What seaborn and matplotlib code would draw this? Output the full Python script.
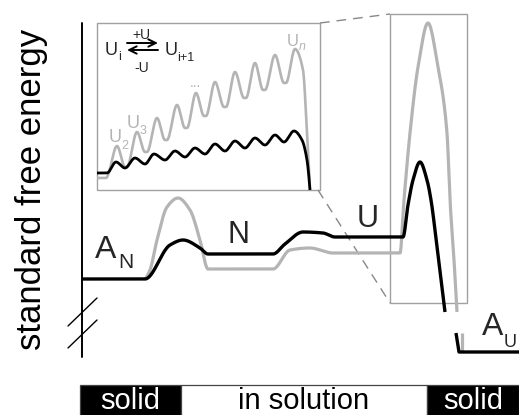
import numpy as np
import pandas as pd
import matplotlib
matplotlib.use("Agg")
import matplotlib.pyplot as plt
from matplotlib.patches import Rectangle
import seaborn as sns

# ---------------- data (schematic free-energy profiles, pixel-like units) ----------------
# main profile, folded pathway (black)
black_x = [82, 145, 170, 183, 200, 208, 273, 285, 303, 323, 335, 403, 408, 413, 420, 427, 431, 437, 445]
black_y = [279, 279, 245, 240, 248, 254, 254, 244, 232, 233, 237, 237, 205, 180, 162, 180, 200, 247, 312]
# main profile, alternative pathway (grey)
grey_x = [145, 150, 157, 167, 178, 190, 200, 208, 273, 290, 310, 333, 400, 404, 410, 418, 428, 438, 447, 450, 454, 457]
grey_y = [279, 270, 240, 207, 198, 210, 240, 269, 269, 250, 248, 253, 253, 200, 133, 67, 23, 67, 133, 200, 260, 312]
# aggregate (solid) end states
black_au_x = [456, 459, 519]
black_au_y = [333, 352, 352]
grey_au_x = [462, 462]
grey_au_y = [333, 352]
# inset: stepwise growth U_i -> U_i+1
inset_black_x = [97, 107, 116, 125, 135, 145, 154, 165, 175, 185, 195, 205, 215, 225, 235, 245,
                 255, 265, 275, 284, 294, 302, 307, 310]
inset_black_y = [173, 173, 162, 168, 158, 164, 154, 160, 151, 157, 148, 154, 144, 151, 141, 148,
                 138, 145, 135, 142, 131, 140, 160, 190]
inset_grey_x = [97, 106, 117, 125, 127, 137, 145, 147, 157, 165, 167, 177, 185, 187, 196, 204, 206,
                215, 224, 226, 235, 244, 246, 255, 263, 265, 275, 284, 286, 295, 303, 307, 310]
inset_grey_y = [178, 178, 146, 167, 167, 132, 152, 152, 118, 140, 140, 105, 128, 128, 93, 116, 116,
                82, 107, 107, 72, 98, 98, 63, 90, 90, 55, 83, 83, 49, 70, 133, 190]

phase_labels = ["solid", "in solution", "solid"]
phase_edges = [80, 181, 427, 519]
phase_colors = ["black", "white", "black"]
phase_text_colors = ["white", "black", "white"]

BLACK = "#000000"
GREY = "#b4b4b4"
BOX = "#a0a0a0"


def pchip_path(xk, yk, n=40):
    x = np.asarray(xk, float)
    y = np.asarray(yk, float)
    h = np.diff(x)
    m = np.diff(y) / h
    d = np.zeros_like(x)
    for k in range(1, len(x) - 1):
        if m[k - 1] * m[k] <= 0:
            d[k] = 0.0
        else:
            w1 = 2 * h[k] + h[k - 1]
            w2 = h[k] + 2 * h[k - 1]
            d[k] = (w1 + w2) / (w1 / m[k - 1] + w2 / m[k])

    def edge(h0, h1, m0, m1):
        dd = ((2 * h0 + h1) * m0 - h0 * m1) / (h0 + h1)
        if np.sign(dd) != np.sign(m0):
            dd = 0.0
        elif np.sign(m0) != np.sign(m1) and abs(dd) > 3 * abs(m0):
            dd = 3 * m0
        return dd

    if len(x) > 2:
        d[0] = edge(h[0], h[1], m[0], m[1])
        d[-1] = edge(h[-1], h[-2], m[-1], m[-2])
    else:
        d[0] = d[-1] = m[0]
    xs, ys = [], []
    for k in range(len(x) - 1):
        t = np.linspace(0, 1, n, endpoint=(k == len(x) - 2))
        h00 = 2 * t**3 - 3 * t**2 + 1
        h10 = t**3 - 2 * t**2 + t
        h01 = -2 * t**3 + 3 * t**2
        h11 = t**3 - t**2
        xs.append(x[k] + t * h[k])
        ys.append(h00 * y[k] + h10 * h[k] * d[k] + h01 * y[k + 1] + h11 * h[k] * d[k + 1])
    return np.concatenate(xs), np.concatenate(ys)


sns.set_theme(style="white")
plt.rcParams["font.family"] = ["Liberation Sans", "DejaVu Sans"]

fig = plt.figure(figsize=(5.19, 4.15), dpi=100)
ax = fig.add_axes([0, 0, 1, 1])
ax.set_xlim(0, 519)
ax.set_ylim(415, 0)
ax.axis("off")


def curve(xk, yk, color, lw, smooth=True, z=3):
    if smooth:
        xs, ys = pchip_path(xk, yk)
    else:
        xs, ys = np.asarray(xk, float), np.asarray(yk, float)
    df = pd.DataFrame({"x": xs, "y": ys})
    sns.lineplot(data=df, x="x", y="y", ax=ax, color=color, lw=lw, sort=False,
                 estimator=None, zorder=z, solid_capstyle="butt", solid_joinstyle="round")


# ---- inset frame, zoom box, connectors ----
ax.add_patch(Rectangle((97, 23), 223, 167, fill=False, ec=BOX, lw=1.0, zorder=1))
ax.add_patch(Rectangle((390, 14), 77, 289, fill=False, ec=BOX, lw=1.0, zorder=1))
ax.plot([320, 390], [23, 14], color="#888888", lw=1.0, ls=(0, (7, 5)), zorder=1)
ax.plot([318, 390], [190, 303], color="#888888", lw=1.0, ls=(0, (7, 5)), zorder=1)

# ---- energy axis with break ----
ax.plot([82, 82], [23, 357], color=BLACK, lw=1.4, zorder=2)
ax.plot([68, 97], [326, 298], color=BLACK, lw=1.0, zorder=2)
ax.plot([68, 97], [348, 320], color=BLACK, lw=1.0, zorder=2)

# ---- profiles ----
curve(grey_x, grey_y, GREY, 2.3, z=3)
curve(grey_au_x, grey_au_y, GREY, 2.3, smooth=False, z=3)
curve(black_x, black_y, BLACK, 2.4, z=4)
curve(black_au_x, black_au_y, BLACK, 2.4, smooth=False, z=4)
curve(inset_grey_x, inset_grey_y, GREY, 1.9, z=3)
curve(inset_black_x, inset_black_y, BLACK, 2.0, z=4)

# ---- labels ----
ax.text(32, 189, "standard free energy", rotation=90, ha="center", va="center",
        fontsize=25, color=BLACK)
ax.text(95, 258, "A", fontsize=23, ha="left", va="baseline")
ax.text(118, 268, "N", fontsize=15, ha="left", va="baseline")
ax.text(228, 243, "N", fontsize=22, ha="left", va="baseline")
ax.text(357, 227, "U", fontsize=22, ha="left", va="baseline")
ax.text(482, 335, "A", fontsize=23, ha="left", va="baseline")
ax.text(504, 347, "U", fontsize=13, ha="left", va="baseline")

# inset labels
ax.text(105, 55, "U", fontsize=13, ha="left", va="baseline")
ax.text(118, 60, "i", fontsize=9, ha="left", va="baseline")
ax.text(165, 55, "U", fontsize=13, ha="left", va="baseline")
ax.text(177, 61, "i+1", fontsize=9, ha="left", va="baseline")
ax.text(141, 39, "+U", fontsize=10, ha="center", va="baseline")
ax.text(142, 72, "-U", fontsize=10, ha="center", va="baseline")
ax.annotate("", xy=(158, 43), xytext=(127, 43),
            arrowprops=dict(arrowstyle="->,head_length=0.45,head_width=0.22", lw=1.4,
                            color=BLACK, shrinkA=0, shrinkB=0))
ax.annotate("", xy=(127, 50), xytext=(158, 50),
            arrowprops=dict(arrowstyle="->,head_length=0.45,head_width=0.22", lw=1.4,
                            color=BLACK, shrinkA=0, shrinkB=0))
ax.text(109, 142, "U", fontsize=13, color=GREY, ha="left", va="baseline")
ax.text(121, 149, "2", fontsize=9, color=GREY, ha="left", va="baseline")
ax.text(127, 128, "U", fontsize=13, color=GREY, ha="left", va="baseline")
ax.text(140, 134, "3", fontsize=9, color=GREY, ha="left", va="baseline")
ax.text(195, 87, "...", fontsize=10, color=GREY, ha="center", va="baseline")
ax.text(287, 46, "U", fontsize=12, color=GREY, ha="left", va="baseline")
ax.text(299, 50, "n", fontsize=9, color=GREY, style="italic", ha="left", va="baseline")

# ---- phase bar ----
for lab, x0, x1, fc, tc in zip(phase_labels, phase_edges[:-1], phase_edges[1:],
                               phase_colors, phase_text_colors):
    ax.add_patch(Rectangle((x0, 385), x1 - x0, 31, fc=fc, ec="#444444", lw=0.9, zorder=2))
    ax.text((x0 + x1) / 2, 408.5, lab, fontsize=21, color=tc, ha="center", va="baseline", zorder=3)

fig.savefig("out.png", dpi=100)
